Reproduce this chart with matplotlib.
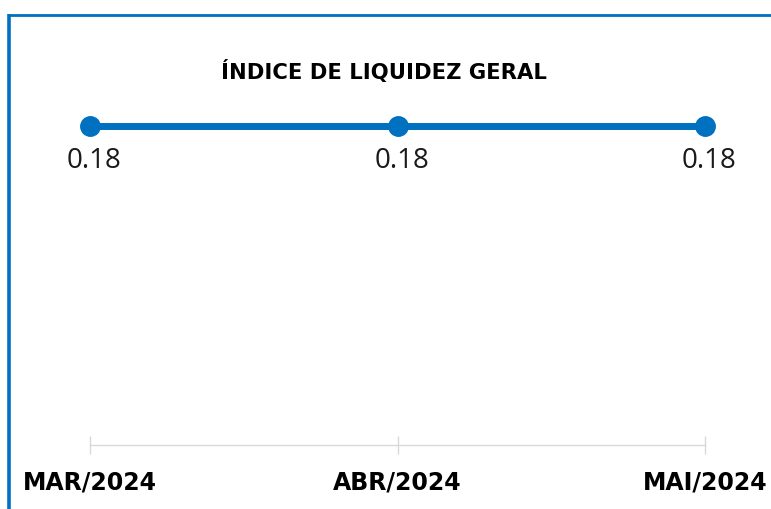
import matplotlib
matplotlib.use('Agg')
from matplotlib import pyplot
from matplotlib.lines import Line2D

months = ['MAR/2024', 'ABR/2024', 'MAI/2024']
values = [0.18, 0.18, 0.18]
title = 'ÍNDICE DE LIQUIDEZ GERAL'

blue = '#0070C0'
grid_grey = '#d9d9d9'

fig = pyplot.figure(figsize=(7.71, 5.09), dpi=100)
W, H = 771, 509

# axes placed so that data x 0..2 spans the marker positions
ax = fig.add_axes([90 / W, (H - 445) / H, 615 / W, (445 - 126) / H])
x = list(range(len(months)))
ax.plot(x, values, color=blue, linewidth=5, marker='o', markersize=14,
        clip_on=False, solid_capstyle='butt')
ax.set_xlim(0, 2)
ax.set_ylim(0, 0.18)

for xi, v in zip(x, values):
    ax.annotate(f'{v:.2f}', (xi, v), xytext=(3, -25), textcoords='offset points',
                ha='center', va='center', fontsize=20, family='Open Sans',
                color='#1a1a1a', annotation_clip=False)

for side in ['left', 'right', 'top']:
    ax.spines[side].set_visible(False)
ax.spines['bottom'].set_color(grid_grey)
ax.spines['bottom'].set_linewidth(1)
ax.set_yticks([])
ax.set_xticks(x)
ax.set_xticklabels(months, fontsize=17, fontweight='bold', family='DejaVu Sans')
ax.tick_params(axis='x', direction='inout', length=13, width=1,
               color=grid_grey, pad=12)

fig.text(384 / W, 1 - 71 / H, title, ha='center', va='center',
         fontsize=15.2, fontweight='bold', family='DejaVu Sans')

# blue frame on left and top
fig.add_artist(Line2D([9.3 / W, 9.3 / W], [0, 1 - 13.5 / H], color=blue,
                      linewidth=2.6, transform=fig.transFigure,
                      solid_capstyle='butt'))
fig.add_artist(Line2D([8 / W, 1], [1 - 14.5 / H, 1 - 14.5 / H], color=blue,
                      linewidth=2.0, transform=fig.transFigure,
                      solid_capstyle='butt'))

fig.savefig('out.png', dpi=100)
